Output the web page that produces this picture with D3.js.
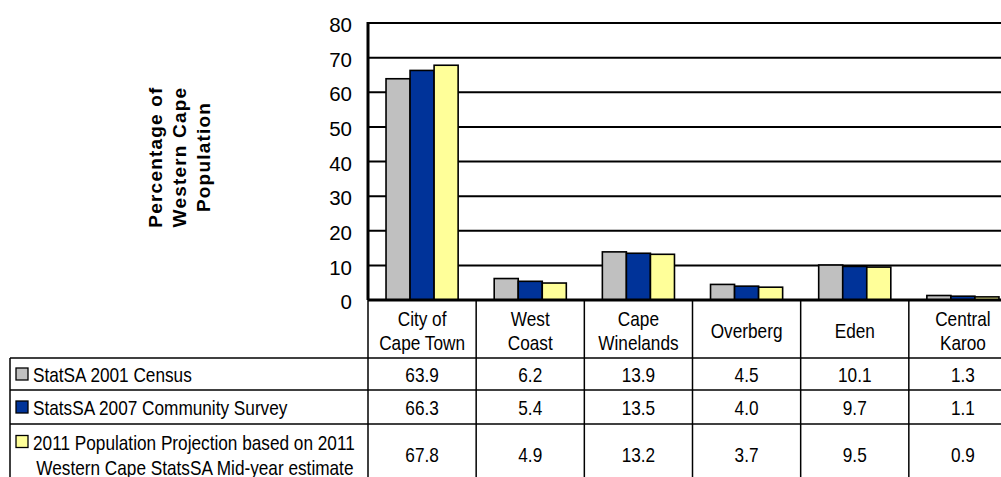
<!DOCTYPE html>
<html>
<head>
<meta charset="utf-8">
<script src="https://cdn.jsdelivr.net/npm/d3@7"></script>
<style>
  html, body { margin: 0; padding: 0; background: #fff; overflow: hidden; }
  svg { display: block; }
  .tbl { font-family: 'Liberation Sans', Arial, Helvetica, sans-serif; font-size: 21px; fill: #000; }
  .tick text { font-family: 'Liberation Sans', Arial, Helvetica, sans-serif; font-size: 20.5px; fill: #000; }
  .ttl { font-family: 'Liberation Sans', Arial, Helvetica, sans-serif; font-size: 19px; font-weight: bold; fill: #000; }
</style>
</head>
<body>
<svg id="chart" width="1001" height="477"></svg>
<script>
const categories = [["City of", "Cape Town"], ["West", "Coast"], ["Cape", "Winelands"], ["Overberg"], ["Eden"], ["Central", "Karoo"]];
const seriesNames = [["StatSA 2001 Census"], ["StatsSA 2007 Community Survey"], ["2011 Population Projection based on 2011", "Western Cape StatsSA Mid-year estimate"]];
const census2001 = [63.9, 6.2, 13.9, 4.5, 10.1, 1.3];
const survey2007 = [66.3, 5.4, 13.5, 4.0, 9.7, 1.1];
const projection2011 = [67.8, 4.9, 13.2, 3.7, 9.5, 0.9];
const valueLabels = [
  ["63.9", "6.2", "13.9", "4.5", "10.1", "1.3"],
  ["66.3", "5.4", "13.5", "4.0", "9.7", "1.1"],
  ["67.8", "4.9", "13.2", "3.7", "9.5", "0.9"]
];
const yTicks = [0, 10, 20, 30, 40, 50, 60, 70, 80];
const colors = ["#C0C0C0", "#003399", "#FFFF99"];
const axisTitle = ["Percentage of", "Western Cape", "Population"];

const series = [census2001, survey2007, projection2011];
const catKeys = categories.map(c => c.join(" "));

const svg = d3.select("#chart");
const plotLeft = 368, plotRight = 1017, plotTop = 23, plotBottom = 300;
const NARROW = 0.82;

const x = d3.scaleBand().domain(catKeys).range([plotLeft, plotRight]).padding(0);
const x1 = d3.scaleBand().domain([0, 1, 2]).range([0, x.bandwidth()]).paddingInner(0).paddingOuter(0.75);
const y = d3.scaleLinear().domain([0, 80]).range([plotBottom, plotTop]);

// gridlines
svg.append("g").selectAll("line").data(yTicks.filter(t => t > 0)).join("line")
  .attr("x1", plotLeft).attr("x2", plotRight)
  .attr("y1", d => y(d)).attr("y2", d => y(d))
  .attr("stroke", "#000").attr("stroke-width", 2);

// bars
const groups = svg.append("g").selectAll("g").data(catKeys).join("g")
  .attr("transform", d => `translate(${x(d)},0)`);
groups.selectAll("rect").data((d, i) => series.map((s, si) => ({ si, v: s[i] }))).join("rect")
  .attr("x", d => x1(d.si))
  .attr("width", x1.bandwidth())
  .attr("y", d => y(d.v))
  .attr("height", d => y(0) - y(d.v))
  .attr("fill", d => colors[d.si])
  .attr("stroke", "#000").attr("stroke-width", 1.6);

// axis
const yAxis = d3.axisLeft(y).tickValues(yTicks).tickSize(0).tickPadding(16);
const ax = svg.append("g").attr("transform", `translate(${plotLeft},0)`).call(yAxis);
ax.attr("font-family", null).attr("font-size", null);
ax.select(".domain").remove();
ax.selectAll(".tick text").attr("dy", "0.42em");

svg.append("line").attr("x1", plotLeft).attr("x2", plotLeft).attr("y1", plotTop - 1).attr("y2", plotBottom)
  .attr("stroke", "#000").attr("stroke-width", 3);
svg.append("line").attr("x1", plotLeft).attr("x2", plotRight).attr("y1", y(0)).attr("y2", y(0))
  .attr("stroke", "#000").attr("stroke-width", 3);

// axis title
const title = svg.append("text").attr("class", "ttl")
  .attr("transform", "translate(179,157) rotate(-90)")
  .attr("text-anchor", "middle")
  .attr("letter-spacing", 1.2);
axisTitle.forEach((t, i) => title.append("tspan").attr("x", 0).attr("y", (i - 1) * 24 + 7).text(t));

// narrow text helper
function ntext(parent, tx, ty, str, anchor) {
  const g = parent.append("g").attr("transform", `translate(${tx},${ty}) scale(${NARROW},1)`);
  return g.append("text").attr("class", "tbl").attr("text-anchor", anchor || "start").attr("dy", "0.35em").text(str);
}

// table
const tblLeft = 10;
const rowTops = [358, 390, 424, 510];
const tg = svg.append("g");
const lineAttr = sel => sel.attr("stroke", "#000").attr("stroke-width", 1.5);

const bounds = catKeys.map(k => x(k)).concat([plotRight]);
tg.selectAll(".vb").data(bounds).join("line").attr("class", "vb")
  .attr("x1", d => d).attr("x2", d => d).attr("y1", plotBottom).attr("y2", rowTops[3]).call(lineAttr);
tg.append("line").attr("x1", tblLeft).attr("x2", tblLeft).attr("y1", rowTops[0]).attr("y2", rowTops[3]).call(lineAttr);
tg.selectAll(".hb").data(rowTops.slice(0, 3)).join("line").attr("class", "hb")
  .attr("x1", tblLeft).attr("x2", plotRight).attr("y1", d => d).attr("y2", d => d).call(lineAttr);

// header labels
categories.forEach((c, i) => {
  const cx = x(catKeys[i]) + x.bandwidth() / 2;
  const mid = (plotBottom + rowTops[0]) / 2 + 2;
  c.forEach((line, j) => {
    ntext(tg, cx, mid + (j - (c.length - 1) / 2) * 24, line, "middle");
  });
});

// rows
const rowMids = [375, 408, 455];
seriesNames.forEach((nm, si) => {
  const rm = rowMids[si];
  const lineYs = nm.map((_, j) => rm + (j - (nm.length - 1) / 2) * 25);
  tg.append("rect").attr("x", 16).attr("y", lineYs[0] - 7).attr("width", 12).attr("height", 12)
    .attr("fill", colors[si]).attr("stroke", "#000").attr("stroke-width", 1.3);
  const t1 = ntext(tg, 33, lineYs[0], nm[0], "start");
  if (nm.length > 1) {
    const w = t1.node().getComputedTextLength() * NARROW;
    ntext(tg, 33 + w / 2 + 1, lineYs[1], nm[1], "middle");
  }
  valueLabels[si].forEach((v, ci) => {
    ntext(tg, x(catKeys[ci]) + x.bandwidth() / 2, rm, v, "middle");
  });
});
</script>
</body>
</html>
